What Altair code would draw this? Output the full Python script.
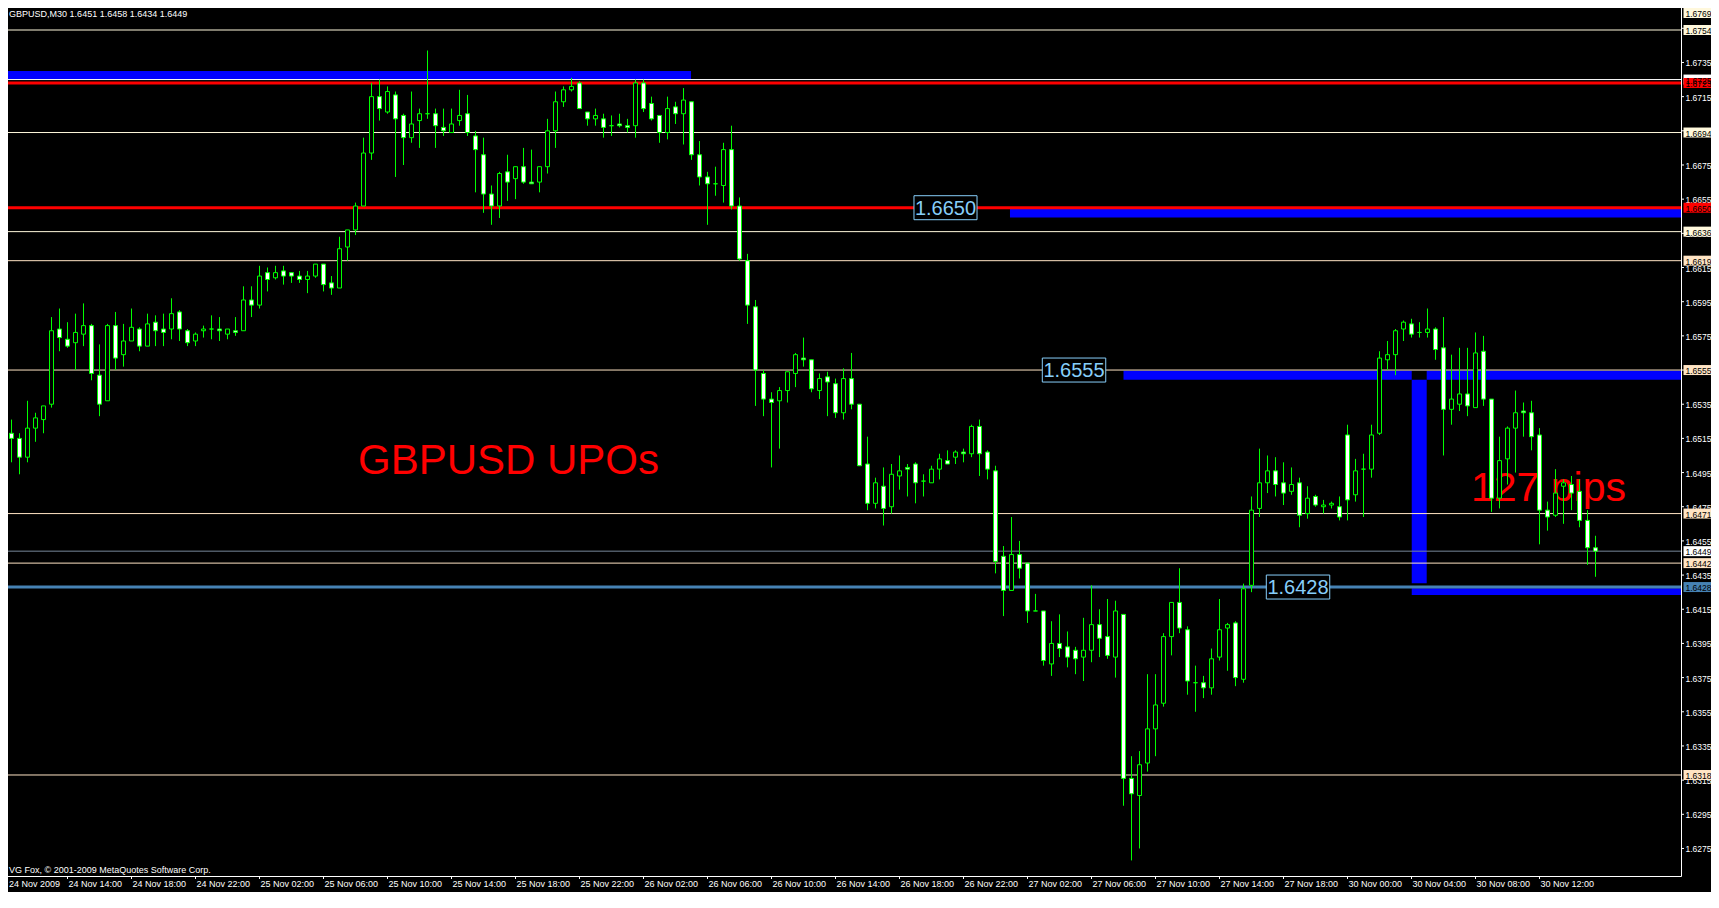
import altair as alt
import pandas as pd

# ---------------- data ----------------
opens = [
    1.6531, 1.6518, 1.6515, 1.6504, 1.6521, 1.6526, 1.6535, 1.6579, 1.6573, 1.6571,
    1.6576, 1.6581, 1.6552, 1.6537, 1.6581, 1.6564, 1.6572, 1.6579, 1.6569, 1.6583,
    1.6579, 1.6579, 1.6589, 1.6578, 1.6572, 1.6578, 1.6579, 1.6579, 1.6576, 1.6578,
    1.6578, 1.6596, 1.6593, 1.6612, 1.6609, 1.6613, 1.6612, 1.6610, 1.6608, 1.6610,
    1.6617, 1.6606, 1.6603, 1.6627, 1.6637, 1.6651, 1.6682, 1.6715, 1.6706, 1.6716,
    1.6704, 1.6691, 1.6701, 1.6705, 1.6705, 1.6697, 1.6694, 1.6701, 1.6705, 1.6692,
    1.6681, 1.6658, 1.6651, 1.6671, 1.6667, 1.6674, 1.6665, 1.6665, 1.6674, 1.6695,
    1.6712, 1.6719, 1.6723, 1.6706, 1.6702, 1.6702, 1.6698, 1.6699, 1.6698, 1.6698,
    1.6723, 1.6711, 1.6704, 1.6694, 1.6709, 1.6705, 1.6712, 1.6681, 1.6668, 1.6664,
    1.6663, 1.6684, 1.6651, 1.6619, 1.6592, 1.6553, 1.6538, 1.6537, 1.6543, 1.6553,
    1.6562, 1.6561, 1.6543, 1.6551, 1.6547, 1.6530, 1.6550, 1.6535, 1.6500, 1.6477,
    1.6487, 1.6475, 1.6493, 1.6498, 1.6500, 1.6490, 1.6489, 1.6497, 1.6502, 1.6504,
    1.6507, 1.6506, 1.6522, 1.6507, 1.6496, 1.6446, 1.6426, 1.6447, 1.6442, 1.6414,
    1.6414, 1.6383, 1.6395, 1.6393, 1.6391, 1.6387, 1.6391, 1.6406, 1.6399, 1.6387,
    1.6412, 1.6316, 1.6306, 1.6325, 1.6345, 1.6360, 1.6399, 1.6419, 1.6403, 1.6372,
    1.6372, 1.6369, 1.6387, 1.6404, 1.6407, 1.6374, 1.6429, 1.6474, 1.6489, 1.6496,
    1.6489, 1.6484, 1.6489, 1.6471, 1.6481, 1.6475, 1.6476, 1.6475, 1.6517, 1.6482,
    1.6497, 1.6497, 1.6518, 1.6561, 1.6564, 1.6579, 1.6582, 1.6577, 1.6577, 1.6579,
    1.6568, 1.6532, 1.6535, 1.6541, 1.6533, 1.6566, 1.6538, 1.6480, 1.6503, 1.6521,
    1.6531, 1.6530, 1.6517, 1.6473, 1.6470, 1.6487, 1.6488, 1.6484, 1.6467, 1.6451,
]
highs = [
    1.6551, 1.6526, 1.6518, 1.6537, 1.6530, 1.6534, 1.6586, 1.6591, 1.6583, 1.6588,
    1.6594, 1.6582, 1.6570, 1.6582, 1.6589, 1.6582, 1.6591, 1.6580, 1.6588, 1.6587,
    1.6588, 1.6597, 1.6590, 1.6579, 1.6577, 1.6581, 1.6587, 1.6586, 1.6579, 1.6586,
    1.6604, 1.6604, 1.6616, 1.6615, 1.6616, 1.6616, 1.6612, 1.6613, 1.6613, 1.6617,
    1.6617, 1.6610, 1.6633, 1.6637, 1.6653, 1.6691, 1.6723, 1.6725, 1.6721, 1.6718,
    1.6705, 1.6718, 1.6708, 1.6742, 1.6708, 1.6708, 1.6708, 1.6719, 1.6716, 1.6695,
    1.6691, 1.6663, 1.6671, 1.6681, 1.6674, 1.6685, 1.6684, 1.6674, 1.6702, 1.6718,
    1.6721, 1.6726, 1.6724, 1.6706, 1.6708, 1.6705, 1.6704, 1.6705, 1.6702, 1.6725,
    1.6725, 1.6715, 1.6704, 1.6715, 1.6712, 1.6720, 1.6712, 1.6689, 1.6671, 1.6674,
    1.6688, 1.6698, 1.6656, 1.6623, 1.6596, 1.6555, 1.6542, 1.6545, 1.6554, 1.6565,
    1.6574, 1.6561, 1.6553, 1.6554, 1.6550, 1.6556, 1.6565, 1.6535, 1.6516, 1.6492,
    1.6498, 1.6500, 1.6505, 1.6500, 1.6501, 1.6494, 1.6499, 1.6506, 1.6508, 1.6508,
    1.6509, 1.6523, 1.6526, 1.6508, 1.6499, 1.6452, 1.6469, 1.6455, 1.6442, 1.6424,
    1.6414, 1.6408, 1.6412, 1.6402, 1.6393, 1.6410, 1.6429, 1.6415, 1.6421, 1.6420,
    1.6412, 1.6329, 1.6332, 1.6377, 1.6377, 1.6401, 1.6419, 1.6439, 1.6405, 1.6382,
    1.6376, 1.6392, 1.6421, 1.6407, 1.6408, 1.6430, 1.6481, 1.6509, 1.6505, 1.6504,
    1.6501, 1.6498, 1.6492, 1.6487, 1.6482, 1.6479, 1.6478, 1.6481, 1.6523, 1.6503,
    1.6506, 1.6523, 1.6566, 1.6572, 1.6579, 1.6584, 1.6585, 1.6583, 1.6591, 1.6580,
    1.6586, 1.6564, 1.6568, 1.6568, 1.6577, 1.6575, 1.6538, 1.6516, 1.6522, 1.6543,
    1.6536, 1.6537, 1.6521, 1.6478, 1.6497, 1.6491, 1.6493, 1.6491, 1.6473, 1.6458,
]
lows = [
    1.6518, 1.6501, 1.6494, 1.6501, 1.6513, 1.6518, 1.6533, 1.6566, 1.6568, 1.6555,
    1.6569, 1.6549, 1.6528, 1.6537, 1.6555, 1.6557, 1.6572, 1.6566, 1.6569, 1.6569,
    1.6569, 1.6573, 1.6572, 1.6569, 1.6569, 1.6574, 1.6573, 1.6572, 1.6573, 1.6575,
    1.6578, 1.6586, 1.6591, 1.6601, 1.6608, 1.6605, 1.6606, 1.6606, 1.6600, 1.6609,
    1.6601, 1.6599, 1.6603, 1.6619, 1.6634, 1.6651, 1.6678, 1.6701, 1.6705, 1.6668,
    1.6675, 1.6688, 1.6685, 1.6702, 1.6685, 1.6692, 1.6694, 1.6698, 1.6692, 1.6659,
    1.6647, 1.6640, 1.6644, 1.6654, 1.6655, 1.6664, 1.6664, 1.6659, 1.6670, 1.6685,
    1.6709, 1.6718, 1.6708, 1.6698, 1.6698, 1.6691, 1.6692, 1.6697, 1.6694, 1.6691,
    1.6706, 1.6701, 1.6688, 1.6690, 1.6699, 1.6687, 1.6678, 1.6663, 1.6640, 1.6657,
    1.6653, 1.6649, 1.6619, 1.6582, 1.6534, 1.6528, 1.6498, 1.6509, 1.6536, 1.6545,
    1.6557, 1.6542, 1.6538, 1.6528, 1.6527, 1.6526, 1.6532, 1.6499, 1.6473, 1.6474,
    1.6464, 1.6471, 1.6485, 1.6481, 1.6477, 1.6481, 1.6489, 1.6491, 1.6500, 1.6500,
    1.6501, 1.6504, 1.6493, 1.6491, 1.6436, 1.6411, 1.6426, 1.6433, 1.6407, 1.6414,
    1.6382, 1.6376, 1.6387, 1.6381, 1.6377, 1.6373, 1.6384, 1.6387, 1.6386, 1.6375,
    1.6300, 1.6268, 1.6275, 1.6320, 1.6329, 1.6358, 1.6388, 1.6401, 1.6365, 1.6355,
    1.6363, 1.6365, 1.6385, 1.6379, 1.6370, 1.6372, 1.6425, 1.6469, 1.6483, 1.6481,
    1.6476, 1.6482, 1.6463, 1.6468, 1.6475, 1.6471, 1.6474, 1.6467, 1.6467, 1.6478,
    1.6469, 1.6492, 1.6517, 1.6555, 1.6552, 1.6572, 1.6574, 1.6574, 1.6574, 1.6561,
    1.6505, 1.6523, 1.6531, 1.6528, 1.6533, 1.6534, 1.6472, 1.6474, 1.6488, 1.6495,
    1.6516, 1.6508, 1.6453, 1.6461, 1.6469, 1.6465, 1.6473, 1.6463, 1.6441, 1.6434,
]
closes = [
    1.6518, 1.6515, 1.6504, 1.6521, 1.6527, 1.6534, 1.6578, 1.6574, 1.6569, 1.6577,
    1.6581, 1.6553, 1.6535, 1.6581, 1.6562, 1.6572, 1.6580, 1.6569, 1.6582, 1.6578,
    1.6577, 1.6588, 1.6579, 1.6571, 1.6576, 1.6579, 1.6579, 1.6578, 1.6579, 1.6577,
    1.6596, 1.6593, 1.6610, 1.6608, 1.6612, 1.6610, 1.6610, 1.6608, 1.6610, 1.6617,
    1.6605, 1.6603, 1.6626, 1.6637, 1.6651, 1.6682, 1.6715, 1.6708, 1.6718, 1.6702,
    1.6691, 1.6699, 1.6705, 1.6705, 1.6698, 1.6695, 1.6699, 1.6704, 1.6694, 1.6684,
    1.6658, 1.6651, 1.6670, 1.6665, 1.6674, 1.6665, 1.6664, 1.6674, 1.6695, 1.6712,
    1.6719, 1.6721, 1.6708, 1.6702, 1.6704, 1.6697, 1.6698, 1.6698, 1.6697, 1.6723,
    1.6708, 1.6702, 1.6694, 1.6708, 1.6705, 1.6713, 1.6681, 1.6668, 1.6664, 1.6664,
    1.6684, 1.6651, 1.6620, 1.6593, 1.6555, 1.6538, 1.6536, 1.6543, 1.6554, 1.6564,
    1.6561, 1.6544, 1.6550, 1.6548, 1.6530, 1.6550, 1.6535, 1.6499, 1.6477, 1.6489,
    1.6474, 1.6494, 1.6496, 1.6497, 1.6489, 1.6490, 1.6497, 1.6503, 1.6500, 1.6507,
    1.6506, 1.6522, 1.6506, 1.6497, 1.6443, 1.6426, 1.6447, 1.6439, 1.6414, 1.6414,
    1.6385, 1.6395, 1.6392, 1.6387, 1.6386, 1.6391, 1.6406, 1.6398, 1.6388, 1.6414,
    1.6316, 1.6307, 1.6324, 1.6345, 1.6359, 1.6399, 1.6419, 1.6404, 1.6373, 1.6372,
    1.6369, 1.6386, 1.6403, 1.6406, 1.6375, 1.6427, 1.6473, 1.6489, 1.6496, 1.6488,
    1.6483, 1.6488, 1.6470, 1.6480, 1.6476, 1.6476, 1.6477, 1.6469, 1.6479, 1.6496,
    1.6497, 1.6517, 1.6562, 1.6564, 1.6578, 1.6583, 1.6576, 1.6577, 1.6579, 1.6567,
    1.6532, 1.6538, 1.6541, 1.6534, 1.6565, 1.6538, 1.6480, 1.6502, 1.6521, 1.6530,
    1.6530, 1.6516, 1.6473, 1.6469, 1.6483, 1.6489, 1.6483, 1.6467, 1.6451, 1.6449,
]

time_labels = [
    "24 Nov 2009", "24 Nov 14:00", "24 Nov 18:00", "24 Nov 22:00",
    "25 Nov 02:00", "25 Nov 06:00", "25 Nov 10:00", "25 Nov 14:00",
    "25 Nov 18:00", "25 Nov 22:00", "26 Nov 02:00", "26 Nov 06:00",
    "26 Nov 10:00", "26 Nov 14:00", "26 Nov 18:00", "26 Nov 22:00",
    "27 Nov 02:00", "27 Nov 06:00", "27 Nov 10:00", "27 Nov 14:00",
    "27 Nov 18:00", "30 Nov 00:00", "30 Nov 04:00", "30 Nov 08:00",
    "30 Nov 12:00",
]
time_tick_bars = [0, 8, 16, 24, 32, 40, 48, 56, 64, 72, 80, 88, 96, 104, 112,
                  120, 128, 136, 144, 152, 160, 168, 176, 184, 192]
price_ticks = [1.6275, 1.6295, 1.6315, 1.6335, 1.6355, 1.6375, 1.6395, 1.6415,
               1.6435, 1.6455, 1.6475, 1.6495, 1.6515, 1.6535, 1.6555, 1.6575,
               1.6595, 1.6615, 1.6635, 1.6655, 1.6675, 1.6695, 1.6715, 1.6735,
               1.6755]

level_prices = [1.6769, 1.6754, 1.6725, 1.6723, 1.6694, 1.6650, 1.6636,
                1.6619, 1.6555, 1.6471, 1.6449, 1.6442, 1.6428, 1.6318]
level_kinds = ["cream", "cream", "white", "red", "cream", "red", "cream",
               "bisque", "bisque", "bisque", "bid", "bisque", "steel", "bisque"]

upo_levels = [1.6650, 1.6555, 1.6428]

header_text = "GBPUSD,M30  1.6451 1.6458 1.6434 1.6449"
copyright_text = "VG Fox, \u00a9 2001-2009 MetaQuotes Software Corp."
red_texts = ["GBPUSD UPOs", "127 pips"]

# ---------------- layout ----------------
PX_PER_BAR = 8
PX_PER_PRICE = 17087.0
VIEW_W, VIEW_H = 1678, 874
X0 = -0.0625
X1 = X0 + VIEW_W / PX_PER_BAR
Y1 = 1.677039
Y0 = Y1 - VIEW_H / PX_PER_PRICE
FONT = "Liberation Sans"
TICK_PX = 3

xs = alt.Scale(domain=[X0, X1], nice=False, zero=False)
ys = alt.Scale(domain=[Y0, Y1], nice=False, zero=False)


def X(f):
    return alt.X(f + ":Q", scale=xs, axis=None)


def Y(f):
    return alt.Y(f + ":Q", scale=ys, axis=None)


STYLE = {  # line colour, line width, label fill, label text colour
    "cream": ("#FFF8DC", 1, "#FFF8DC", "black"),
    "bisque": ("#FFE4C4", 1, "#FFE4C4", "black"),
    "white": ("#FFFFFF", 1, "#FFFFFF", "black"),
    "red": ("#FF0000", 3, "#FF0000", "black"),
    "bid": ("#778899", 1, "#FFFFFF", "black"),
    "steel": ("#4682B4", 3, "#4682B4", "black"),
}

# ---------------- tables ----------------
candles = pd.DataFrame({
    "i": list(range(len(opens))),
    "open": opens, "high": highs, "low": lows, "close": closes,
})
candles["top"] = candles[["open", "close"]].max(axis=1)
candles["bottom"] = candles[["open", "close"]].min(axis=1)
candles["fill"] = ["#FFFFFF" if c < o else "#000000" for o, c in zip(opens, closes)]
candles["x_lo"] = candles["i"] - 0.25
candles["x_hi"] = candles["i"] + 0.25

levels = pd.DataFrame({"price": level_prices, "kind": level_kinds})
levels["line_color"] = [STYLE[k][0] for k in level_kinds]
levels["line_w"] = [STYLE[k][1] for k in level_kinds]
levels["label_fill"] = [STYLE[k][2] for k in level_kinds]
levels["label_text"] = [STYLE[k][3] for k in level_kinds]
LABEL_HALF = 5 / PX_PER_PRICE
TOP_LABEL = Y1 - 11 / PX_PER_PRICE  # keep the topmost label inside the page
levels["label_y"] = levels["price"].clip(upper=TOP_LABEL)
levels["y_lo"] = levels["label_y"] - LABEL_HALF
levels["y_hi"] = levels["label_y"] + LABEL_HALF
levels["x_lo"] = 210.0
levels["x_hi"] = 213.7
levels["x_txt"] = 210.25

# right price scale (drawn as marks)
yticks = pd.DataFrame({"price": price_ticks})
yticks["x_lo"] = X1
yticks["x_hi"] = X1 + TICK_PX / PX_PER_BAR
yticks["x_txt"] = 210.25
yticks = yticks[(yticks["price"] > Y0) & (yticks["price"] < Y1)]

# bottom time scale (drawn as marks)
xticks = pd.DataFrame({"bar": time_tick_bars, "label": time_labels})
xticks["y_top"] = Y0
xticks["y_bot"] = Y0 - TICK_PX / PX_PER_PRICE
xticks["y_txt"] = Y0 - 4 / PX_PER_PRICE
xticks["x_txt"] = (xticks["bar"] + 0.12).clip(lower=0.69)

bands = pd.DataFrame({
    "x_lo": [-1.0, 125.81, 140.0, 177.9, 176.03, 176.03],
    "x_hi": [85.94, X1, 176.03, X1, 177.9, X1],
    "y_lo": [1.67253, 1.66443, 1.65493, 1.65493, 1.64302, 1.64233],
    "y_hi": [1.67300, 1.66492, 1.65546, 1.65546, 1.65493, 1.64273],
})

BOX_HALF = 12 / PX_PER_PRICE
upo = pd.DataFrame({
    "price": upo_levels,
    "x_lo": [113.81, 129.85, 157.85],
    "x_hi": [121.69, 137.78, 165.78],
})
upo["x_c"] = (upo["x_lo"] + upo["x_hi"]) / 2
upo["y_lo"] = upo["price"] - BOX_HALF
upo["y_hi"] = upo["price"] + BOX_HALF

reds = pd.DataFrame({"text": red_texts, "x": [44.31, 183.44],
                     "y": [1.649416, 1.647853], "fs": [42, 41]})
whites = pd.DataFrame({"text": [header_text, copyright_text], "x": [0.7, 0.7],
                       "y": [1.676190, 1.626065]})

# ---------------- layers ----------------
band_layer = alt.Chart(bands).mark_rect(color="#0000FF").encode(
    x=X("x_lo"), x2="x_hi", y=Y("y_lo"), y2="y_hi")

line_layer = alt.Chart(levels).mark_rule().encode(
    y=Y("price"),
    color=alt.Color("line_color:N", scale=None),
    strokeWidth=alt.StrokeWidth("line_w:Q", scale=None))

red_layer = alt.Chart(reds).mark_text(
    align="left", baseline="alphabetic", font=FONT, color="#FF0000").encode(
    x=X("x"), y=Y("y"), text="text:N", size=alt.Size("fs:Q", scale=None))

wick_layer = alt.Chart(candles).mark_rule(color="#00FF00", strokeWidth=1).encode(
    x=X("i"), y=Y("low"), y2="high")

body_layer = alt.Chart(candles).mark_rect(stroke="#00FF00", strokeWidth=1).encode(
    x=X("x_lo"), x2="x_hi", y=Y("bottom"), y2="top",
    fill=alt.Fill("fill:N", scale=None))

ytick_marks = alt.Chart(yticks).mark_rule(color="white", strokeWidth=1).encode(
    x=X("x_lo"), x2="x_hi", y=Y("price"))
ytick_text = alt.Chart(yticks).mark_text(
    align="left", baseline="middle", font=FONT, fontSize=8.5, color="white", dy=1).encode(
    x=X("x_txt"), y=Y("price"), text=alt.Text("price:Q", format=".4f"))

xtick_marks = alt.Chart(xticks).mark_rule(color="white", strokeWidth=1).encode(
    x=X("bar"), y=Y("y_top"), y2="y_bot")
xtick_text = alt.Chart(xticks).mark_text(
    align="left", baseline="top", font=FONT, fontSize=9, color="white").encode(
    x=X("x_txt"), y=Y("y_txt"), text="label:N")

upo_box = alt.Chart(upo).mark_rect(fill="black", stroke="#87CEFA", strokeWidth=1).encode(
    x=X("x_lo"), x2="x_hi", y=Y("y_lo"), y2="y_hi")
upo_text = alt.Chart(upo).mark_text(
    align="center", baseline="middle", font=FONT, fontSize=20, color="#87CEFA", dy=1).encode(
    x=X("x_c"), y=Y("price"), text=alt.Text("price:Q", format=".4f"))

label_box = alt.Chart(levels).mark_rect().encode(
    x=X("x_lo"), x2="x_hi", y=Y("y_lo"), y2="y_hi",
    fill=alt.Fill("label_fill:N", scale=None))
label_text = alt.Chart(levels).mark_text(
    align="left", baseline="middle", font=FONT, fontSize=8.5, dy=1).encode(
    x=X("x_txt"), y=Y("label_y"), text=alt.Text("price:Q", format=".4f"),
    color=alt.Color("label_text:N", scale=None))

white_layer = alt.Chart(whites).mark_text(
    align="left", baseline="alphabetic", font=FONT, fontSize=9, color="white").encode(
    x=X("x"), y=Y("y"), text="text:N")

chart = alt.layer(
    band_layer, line_layer, red_layer, wick_layer, body_layer,
    ytick_marks, ytick_text, xtick_marks, xtick_text,
    upo_box, upo_text, label_box, label_text, white_layer,
).properties(
    width=VIEW_W, height=VIEW_H,
    padding={"left": -5, "top": -6, "right": 30, "bottom": 16},
    autosize=alt.AutoSizeParams(type="none"),
    background="black",
).configure_view(stroke="white", strokeWidth=1)

chart.save("out.html", embed_options={"renderer": "svg", "actions": False})
